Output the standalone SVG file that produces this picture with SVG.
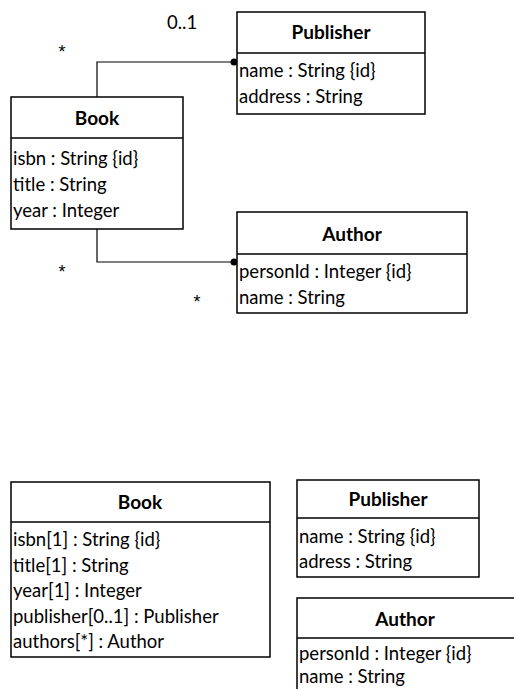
<svg xmlns="http://www.w3.org/2000/svg" width="514" height="689" viewBox="0 0 514 689">
<style>
.box{fill:#fff;stroke:#000;stroke-width:1.5}
.div{stroke:#000;stroke-width:1.5}
.t{font-family:Lato,"Liberation Sans",Arial,sans-serif;font-size:18.5px;fill:#000}
.s{font-family:"Liberation Sans",Arial,sans-serif;font-size:18px;fill:#000;text-anchor:middle}
.h{font-weight:bold;text-anchor:middle;font-size:19px}
.con{fill:none;stroke:#000;stroke-width:1.2}
</style>
<rect width="514" height="689" fill="#fff"/>
<g id="connectors">
<polyline class="con" points="97,97 97,62 236,62"/>
<circle cx="234" cy="62" r="3.5"/>
<polyline class="con" points="97,229 97,262 236,262"/>
<circle cx="234" cy="262" r="3.5"/>
<text class="t" x="167" y="29">0..1</text>
<text class="s" x="62" y="58">*</text>
<text class="s" x="62" y="278">*</text>
<text class="s" x="197" y="308">*</text>
</g>
<g id="book1">
<rect class="box" x="11" y="97" width="172" height="132"/>
<line class="div" x1="11" y1="138" x2="183" y2="138"/>
<text class="t h" x="97" y="125">Book</text>
<text class="t" x="13" y="165">isbn : String {id}</text>
<text class="t" x="13" y="191">title : String</text>
<text class="t" x="13" y="217">year : Integer</text>
</g>
<g id="publisher1">
<rect class="box" x="237" y="12" width="188" height="102"/>
<line class="div" x1="237" y1="53" x2="425" y2="53"/>
<text class="t h" x="331" y="39">Publisher</text>
<text class="t" x="239" y="77">name : String {id}</text>
<text class="t" x="239" y="103">address : String</text>
</g>
<g id="author1">
<rect class="box" x="237" y="212" width="230" height="101"/>
<line class="div" x1="237" y1="254" x2="467" y2="254"/>
<text class="t h" x="352" y="241">Author</text>
<text class="t" x="239" y="278">personId : Integer {id}</text>
<text class="t" x="239" y="304">name : String</text>
</g>
<g id="book2">
<rect class="box" x="11" y="482" width="259" height="175"/>
<line class="div" x1="11" y1="522" x2="270" y2="522"/>
<text class="t h" x="140" y="509">Book</text>
<text class="t" x="13" y="546">isbn[1] : String {id}</text>
<text class="t" x="13" y="572">title[1] : String</text>
<text class="t" x="13" y="597">year[1] : Integer</text>
<text class="t" x="13" y="623">publisher[0..1] : Publisher</text>
<text class="t" x="13" y="648">authors[*] : Author</text>
</g>
<g id="publisher2">
<rect class="box" x="297" y="480" width="182" height="97"/>
<line class="div" x1="297" y1="518" x2="479" y2="518"/>
<text class="t h" x="388" y="506">Publisher</text>
<text class="t" x="299" y="543">name : String {id}</text>
<text class="t" x="299" y="568">adress : String</text>
</g>
<g id="author2">
<rect class="box" x="297" y="598" width="230" height="110"/>
<line class="div" x1="297" y1="638" x2="527" y2="638"/>
<text class="t h" x="405" y="626">Author</text>
<text class="t" x="299" y="660">personId : Integer {id}</text>
<text class="t" x="299" y="683">name : String</text>
</g>
</svg>
